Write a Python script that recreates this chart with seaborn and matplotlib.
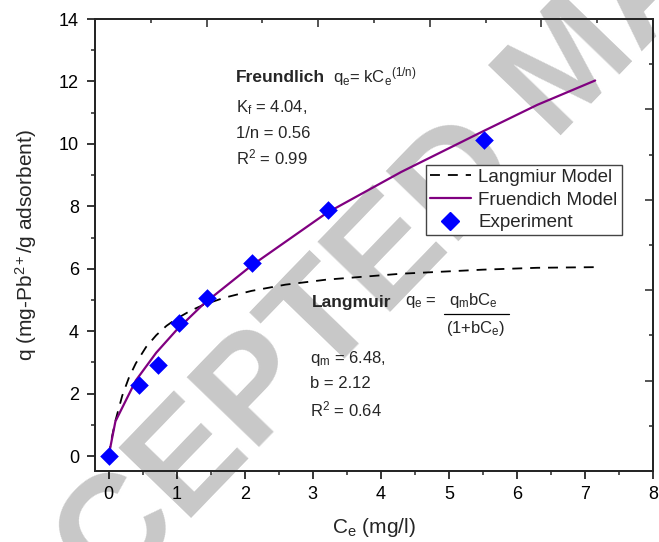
import numpy as np
import pandas as pd
import matplotlib
matplotlib.use("Agg")
import matplotlib.pyplot as plt
from matplotlib.ticker import MultipleLocator
from matplotlib.lines import Line2D
import seaborn as sns

# Experimental adsorption equilibrium data (Pb2+)
ce_exp = [0.0, 0.44, 0.73, 1.03, 1.44, 2.11, 3.22, 5.51]
qe_exp = [0.0, 2.27, 2.93, 4.26, 5.06, 6.19, 7.87, 10.13]

# Freundlich model curve (Kf = 4.04, 1/n = 0.56)
ce_freundlich = [0.0, 0.1, 0.4, 0.7, 1.0, 1.4, 2.1, 3.2, 4.3, 5.5, 6.3, 7.15]
qe_freundlich = [0.0, 1.11, 2.42, 3.31, 4.04, 4.88, 6.10, 7.78, 9.10, 10.40, 11.25, 12.03]

# Langmuir model curve (qm = 6.48, b = 2.12)
ce_langmuir = [0.0, 0.05, 0.1, 0.2, 0.3, 0.4, 0.55, 0.7, 0.85, 1.0, 1.2, 1.4,
               1.7, 2.1, 2.6, 3.2, 4.3, 5.5, 6.3, 7.15]
qe_langmuir = [0.0, 0.62, 1.13, 1.93, 2.52, 2.97, 3.49, 3.87, 4.17, 4.40, 4.65, 4.85,
               5.07, 5.29, 5.49, 5.65, 5.84, 5.97, 6.03, 6.05]

series_labels = ["Langmiur Model", "Fruendich Model", "Experiment"]
x_ticks = [0, 1, 2, 3, 4, 5, 6, 7, 8]
y_ticks = [0, 2, 4, 6, 8, 10, 12, 14]

sns.set_style("ticks")
plt.rcParams["font.family"] = ["Liberation Sans", "DejaVu Sans"]
plt.rcParams["mathtext.fontset"] = "custom"
plt.rcParams["mathtext.rm"] = "Liberation Sans"
plt.rcParams["mathtext.it"] = "Liberation Sans"
plt.rcParams["mathtext.bf"] = "Liberation Sans:bold"
plt.rcParams["mathtext.default"] = "regular"

W, H = 659, 542
fig = plt.figure(figsize=(W / 100, H / 100), dpi=100)
fig.patch.set_facecolor("white")

# axes frame in pixel coordinates
L, R, T, B = 95, 653, 19, 471
ax = fig.add_axes([L / W, 1 - B / H, (R - L) / W, (B - T) / H])
ax.patch.set_alpha(0)

# watermark behind the plot
fig.text(600 / W, 1 - 95 / H, "ACCEPTED MANUSCRIPT", rotation=46,
         rotation_mode="anchor", ha="center", va="baseline", fontsize=106,
         fontweight="bold", color="#c8c8c8", zorder=-5)

df_l = pd.DataFrame({"ce": ce_langmuir, "qe": qe_langmuir})
df_f = pd.DataFrame({"ce": ce_freundlich, "qe": qe_freundlich})
df_e = pd.DataFrame({"ce": ce_exp, "qe": qe_exp})

dash = [5.5, 4.4]
sns.lineplot(data=df_l, x="ce", y="qe", ax=ax, color="black", lw=1.3,
             sort=False, estimator=None, zorder=3)
ax.lines[-1].set_dashes(dash)
sns.lineplot(data=df_f, x="ce", y="qe", ax=ax, color="#800080", lw=1.6,
             sort=False, estimator=None, zorder=4)
sns.scatterplot(data=df_e, x="ce", y="qe", ax=ax, color="#0000ff", marker="D",
                s=90, edgecolor="#0000ff", linewidth=0, zorder=5)

ax.set_xlim(-0.2, 8)
ax.set_ylim(-0.48, 14)
ax.set_xticks(x_ticks)
ax.set_yticks(y_ticks)
ax.xaxis.set_minor_locator(MultipleLocator(0.5))
ax.yaxis.set_minor_locator(MultipleLocator(1))
ax.tick_params(which="major", direction="out", length=5.5, width=1.1,
               labelsize=13, colors="black")
ax.tick_params(axis="x", which="major", pad=5)
ax.tick_params(axis="y", which="major", pad=6)
ax.tick_params(which="minor", direction="out", length=3, width=1.1)
for s in ax.spines.values():
    s.set_linewidth(1.1)
    s.set_color("black")
    s.set_visible(True)

ax.set_xlabel("C$_e$ (mg/l)", fontsize=15, labelpad=10)
ax.set_ylabel("q (mg-Pb$^{2+}$/g adsorbent)", fontsize=15, labelpad=14)

# mirrored frame ticks on top and right (inward)
axt = ax.twiny()
axt.set_xlim(0, 10)
axt.xaxis.set_major_locator(MultipleLocator(2))
axt.xaxis.set_minor_locator(MultipleLocator(1))
axt.tick_params(axis="x", which="major", direction="in", length=5.5, width=1.1,
                labeltop=False)
axt.tick_params(axis="x", which="minor", direction="in", length=3, width=1.1)
axr = ax.twinx()
axr.set_ylim(0, 10)
axr.yaxis.set_major_locator(MultipleLocator(2))
axr.yaxis.set_minor_locator(MultipleLocator(1))
axr.tick_params(axis="y", which="major", direction="in", length=5.5, width=1.1,
                labelright=False)
axr.tick_params(axis="y", which="minor", direction="in", length=3, width=1.1)
for a in (axt, axr):
    a.patch.set_alpha(0)
    for s in a.spines.values():
        s.set_linewidth(1.1)

# legend
handles = [
    Line2D([], [], color="black", lw=1.3, dashes=dash),
    Line2D([], [], color="#800080", lw=1.6),
    Line2D([], [], color="#0000ff", marker="D", ls="none", markersize=9),
]
leg = ax.legend(handles, series_labels, loc="upper left",
                bbox_to_anchor=((426 - L) / (R - L), (B - 165) / (B - T)),
                borderaxespad=0, fontsize=13.5, frameon=True, fancybox=False,
                edgecolor="#444444", framealpha=1, borderpad=0.2,
                labelspacing=0.3, handlelength=2.2, handletextpad=0.4)
leg.get_frame().set_linewidth(1.0)
leg.set_zorder(10)


def fx(px):
    return (px - L) / (R - L)


def fy(py):
    return (B - py) / (B - T)


fs = 12
fsb = 12.5
# Freundlich annotation
ax.text(fx(236), fy(77), "Freundlich", transform=ax.transAxes, fontsize=fsb,
        fontweight="bold", va="center", ha="left")
ax.text(fx(333), fy(77), "q$_e$= kC$_e$$^{(1/n)}$", transform=ax.transAxes,
        fontsize=fs, va="center", ha="left")
ax.text(fx(236), fy(108), "K$_f$ = 4.04,", transform=ax.transAxes, fontsize=fs,
        va="center", ha="left")
ax.text(fx(236), fy(133), "1/n = 0.56", transform=ax.transAxes, fontsize=fs,
        va="center", ha="left")
ax.text(fx(236), fy(157), "R$^2$ = 0.99", transform=ax.transAxes, fontsize=fs,
        va="center", ha="left")

# Langmuir annotation: q_e = q_m b C_e / (1 + b C_e)
ax.text(fx(312), fy(302), "Langmuir", transform=ax.transAxes, fontsize=fsb,
        fontweight="bold", va="center", ha="left")
ax.text(fx(405), fy(302), "q$_e$ =", transform=ax.transAxes, fontsize=fs,
        va="center", ha="left")
ax.text(fx(449), fy(300), "q$_m$bC$_e$", transform=ax.transAxes, fontsize=fs,
        va="center", ha="left")
ax.add_line(Line2D([fx(444), fx(509)], [fy(314), fy(314)], transform=ax.transAxes,
                   color="black", lw=0.9))
ax.text(fx(446), fy(329), "(1+bC$_e$)", transform=ax.transAxes, fontsize=fs,
        va="center", ha="left")
ax.text(fx(310), fy(358), "q$_m$ = 6.48,", transform=ax.transAxes, fontsize=fs,
        va="center", ha="left")
ax.text(fx(310), fy(384), "b = 2.12", transform=ax.transAxes, fontsize=fs,
        va="center", ha="left")
ax.text(fx(310), fy(409), "R$^2$ = 0.64", transform=ax.transAxes, fontsize=fs,
        va="center", ha="left")

fig.savefig("out.png", dpi=100)
